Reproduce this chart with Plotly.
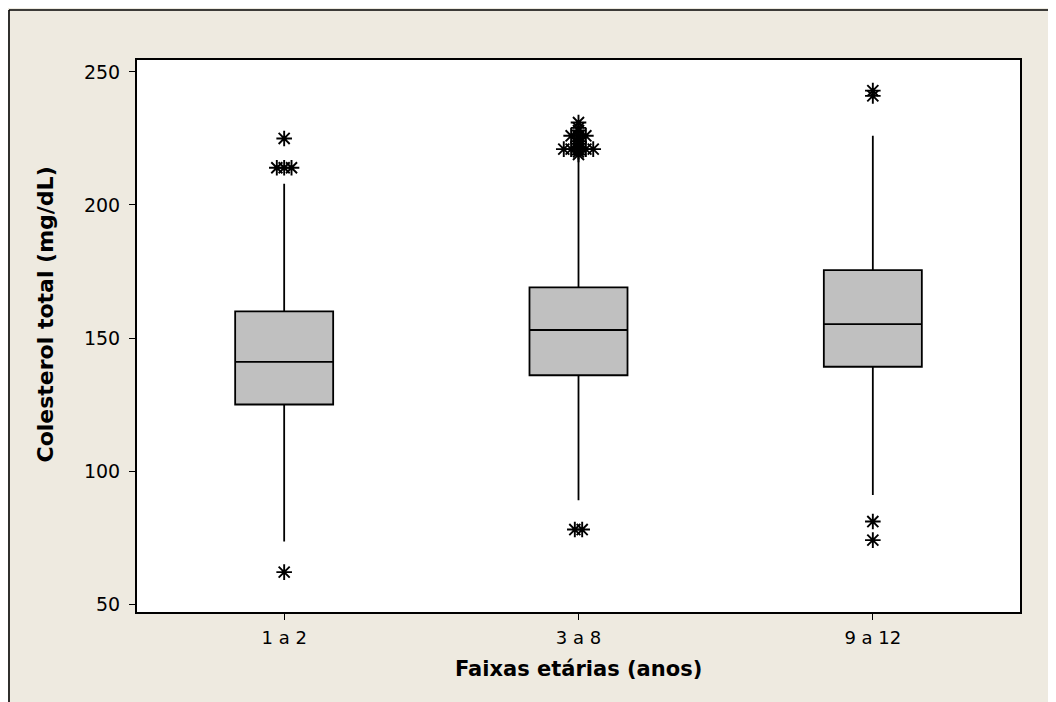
import plotly.graph_objects as go
from collections import Counter

# ---- data ----
categories = ["1 a 2", "3 a 8", "9 a 12"]
q1 = [125, 136, 139.2]
median = [141, 153, 155.2]
q3 = [160, 169, 175.5]
lower_whisker = [73.5, 89, 91]
upper_whisker = [208, 218, 226]
outliers_1a2 = [225, 214, 214, 214, 62]
outliers_3a8 = [231, 229, 228, 226, 226, 226, 225, 224, 223, 222,
                221, 221, 221, 221, 221, 220, 219, 78, 78]
outliers_9a12 = [243, 241, 81, 74]
y_ticks = [50, 100, 150, 200, 250]
x_title = "Faixas etárias (anos)"
y_title = "Colesterol total (mg/dL)"

outliers = [outliers_1a2, outliers_3a8, outliers_9a12]
positions = [1, 2, 3]

# ---- layout geometry (figure pixels; page adds an 8px body margin) ----
W, H = 1056, 702
L, R, T, B = 129, 1012, 52, 604
def px2x(px):
    return (px - L) / (R - L)
def px2y(py):
    return (B - py) / (B - T)

BEIGE = "#EEEAE0"
FONT = "DejaVu Sans"

fig = go.Figure()

for i, cat in enumerate(categories):
    fig.add_trace(go.Box(
        x=[positions[i]], q1=[q1[i]], median=[median[i]], q3=[q3[i]],
        lowerfence=[lower_whisker[i]], upperfence=[upper_whisker[i]],
        width=0.333, whiskerwidth=0, boxpoints=False,
        fillcolor="#C0C0C0", line=dict(color="black", width=1.8),
        name=cat, showlegend=False, hoverinfo="skip",
    ))

# outliers: identical values spread side by side
step = 0.025
ox, oy = [], []
for i, vals in enumerate(outliers):
    counts = Counter(vals)
    seen = Counter()
    for v in vals:
        n = counts[v]
        k = seen[v]
        seen[v] += 1
        ox.append(positions[i] + (k - (n - 1) / 2) * step)
        oy.append(v)
fig.add_trace(go.Scatter(
    x=ox, y=oy, mode="markers", showlegend=False, hoverinfo="skip",
    marker=dict(symbol="asterisk-open", size=13, color="black",
                line=dict(color="black", width=1.9)),
))

shapes = [
    # outer frame lines (top and left edges of the figure)
    dict(type="line", xref="paper", yref="paper", x0=px2x(1), x1=px2x(W + 5),
         y0=px2y(2), y1=px2y(2), line=dict(color="black", width=1.6)),
    dict(type="line", xref="paper", yref="paper", x0=px2x(1), x1=px2x(1),
         y0=px2y(2), y1=px2y(H + 5), line=dict(color="black", width=1.6)),
]

annotations = [
    dict(text=f"<b>{x_title}</b>", xref="paper", yref="paper",
         x=px2x(570), y=px2y(675), showarrow=False,
         font=dict(family=FONT, size=21, color="black")),
    dict(text=f"<b>{y_title}</b>", xref="paper", yref="paper",
         x=px2x(22), y=px2y(307), showarrow=False, textangle=-90,
         font=dict(family=FONT, size=22, color="black")),
]

fig.update_layout(
    width=W, height=H,
    margin=dict(l=L, r=W - R, t=T, b=H - B, pad=0),
    paper_bgcolor=BEIGE, plot_bgcolor="white",
    shapes=shapes, annotations=annotations,
    font=dict(family=FONT, size=18, color="black"),
)
fig.update_xaxes(
    range=[0.5, 3.5], tickvals=positions, ticktext=categories,
    showgrid=False, zeroline=False, showline=True, mirror=True,
    linecolor="black", linewidth=2, ticks="outside", ticklen=6,
    tickcolor="black", tickwidth=1.3, tickfont=dict(size=18),
    ticklabelstandoff=2,
)
fig.update_yaxes(
    range=[47.0, 254.5], tickvals=y_ticks,
    showgrid=False, zeroline=False, showline=True, mirror=True,
    linecolor="black", linewidth=2, ticks="outside", ticklen=6,
    tickcolor="black", tickwidth=1.3, tickfont=dict(size=19),
    ticklabelstandoff=5,
)

fig.write_html("out.html")
